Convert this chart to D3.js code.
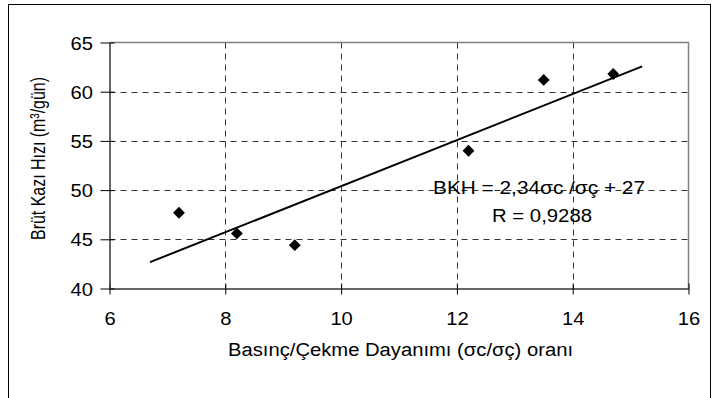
<!DOCTYPE html>
<html><head><meta charset="utf-8">
<script src="https://cdn.jsdelivr.net/npm/d3@7"></script>
<style>body{margin:0;background:#fff}svg{display:block;font-family:"Liberation Sans",Arial,sans-serif}</style>
</head><body><svg id="c" width="712" height="398"></svg>
<script>
const xValues = [7.2, 8.2, 9.2, 12.2, 13.5, 14.7];
const yValues = [47.7, 45.6, 44.4, 54.0, 61.2, 61.8];
const xTicks = [6, 8, 10, 12, 14, 16];
const yTicks = [40, 45, 50, 55, 60, 65];
const fitX = [6.7, 15.2];
const slope = 2.34, intercept = 27;
const eqText = "BKH = 2,34\u03c3c /\u03c3\u00e7 + 27";
const rText = "R = 0,9288";
const xTitle = "Bas\u0131n\u00e7/\u00c7ekme Dayan\u0131m\u0131 (\u03c3c/\u03c3\u00e7) oran\u0131";
const yTitle = "Br\u00fct Kaz\u0131 H\u0131z\u0131 (m\u00b3/g\u00fcn)";

const svg = d3.select("#c");
const L = 109.5, R = 688.5, T = 42.5, B = 288.5;
const x = d3.scaleLinear().domain([6, 16]).range([L, R]);
const y = d3.scaleLinear().domain([40, 65]).range([B, T]);

svg.append("rect").attr("x", 8.5).attr("y", 4.5).attr("width", 702).attr("height", 400)
  .attr("fill", "none").attr("stroke", "#000").attr("stroke-width", 1);

// grid
svg.append("g").selectAll("line").data(xTicks.slice(1, -1)).join("line")
  .attr("x1", d => Math.round(x(d)) + 0.5).attr("x2", d => Math.round(x(d)) + 0.5)
  .attr("y1", T).attr("y2", B).attr("stroke", "#333").attr("stroke-dasharray", "6,5");
svg.append("g").selectAll("line").data(yTicks.slice(1, -1)).join("line")
  .attr("y1", d => Math.round(y(d)) + 0.5).attr("y2", d => Math.round(y(d)) + 0.5)
  .attr("x1", L).attr("x2", R).attr("stroke", "#333").attr("stroke-dasharray", "6,5");

// plot border (top/right)
svg.append("path").attr("d", `M${L},${T}H${R}V${B}`).attr("fill", "none").attr("stroke", "#808080").attr("stroke-width", 1.5);

// axes
const xa = svg.append("g").attr("transform", `translate(0,${B})`)
  .call(d3.axisBottom(x).tickValues(xTicks).tickSize(6).tickSizeOuter(0));
const ya = svg.append("g").attr("transform", `translate(${L},0)`)
  .call(d3.axisLeft(y).tickValues(yTicks).tickSize(6).tickSizeOuter(0));
[xa, ya].forEach(g => {
  g.select(".domain").attr("stroke", "#333").attr("stroke-width", 1.5);
  g.selectAll(".tick line").attr("stroke", "#000");
  g.selectAll("text").attr("font-size", 18).attr("fill", "#000")
    .attr("font-family", "Liberation Sans, Arial, sans-serif");
});
xa.selectAll(".tick line").attr("y1", -5);
xa.selectAll("text").attr("y", 0).attr("dy", null)
  .attr("transform", "translate(0,36.5) scale(1.12,1)");
ya.selectAll(".tick line").attr("x1", 5).attr("x2", -9);
ya.selectAll("text").attr("x", 0).attr("dy", null)
  .attr("transform", "translate(-16.5,6.5) scale(1.12,1)");

// fit line
svg.append("line").attr("x1", x(fitX[0])).attr("y1", y(slope * fitX[0] + intercept))
  .attr("x2", x(fitX[1])).attr("y2", y(slope * fitX[1] + intercept))
  .attr("stroke", "#000").attr("stroke-width", 2);

// points
svg.append("g").selectAll("path").data(xValues.map((v, i) => [v, yValues[i]])).join("path")
  .attr("d", d3.symbol(d3.symbolSquare, 70))
  .attr("transform", d => `translate(${x(d[0])},${y(d[1])}) rotate(45)`)
  .attr("fill", "#000");

// equation
svg.append("text").attr("x", 433).attr("y", 194).attr("font-size", 18)
  .attr("textLength", 212).attr("lengthAdjust", "spacingAndGlyphs").text(eqText);
svg.append("text").attr("x", 492).attr("y", 222).attr("font-size", 18)
  .attr("textLength", 100).attr("lengthAdjust", "spacingAndGlyphs").text(rText);

// titles
svg.append("text").attr("x", 228).attr("y", 356).attr("font-size", 18)
  .attr("textLength", 345).attr("lengthAdjust", "spacingAndGlyphs").text(xTitle);
svg.append("text").attr("transform", "translate(44.5,240) rotate(-90) scale(1,1.12)").attr("font-size", 18)
  .attr("textLength", 163).attr("lengthAdjust", "spacingAndGlyphs").text(yTitle);
</script></body></html>
